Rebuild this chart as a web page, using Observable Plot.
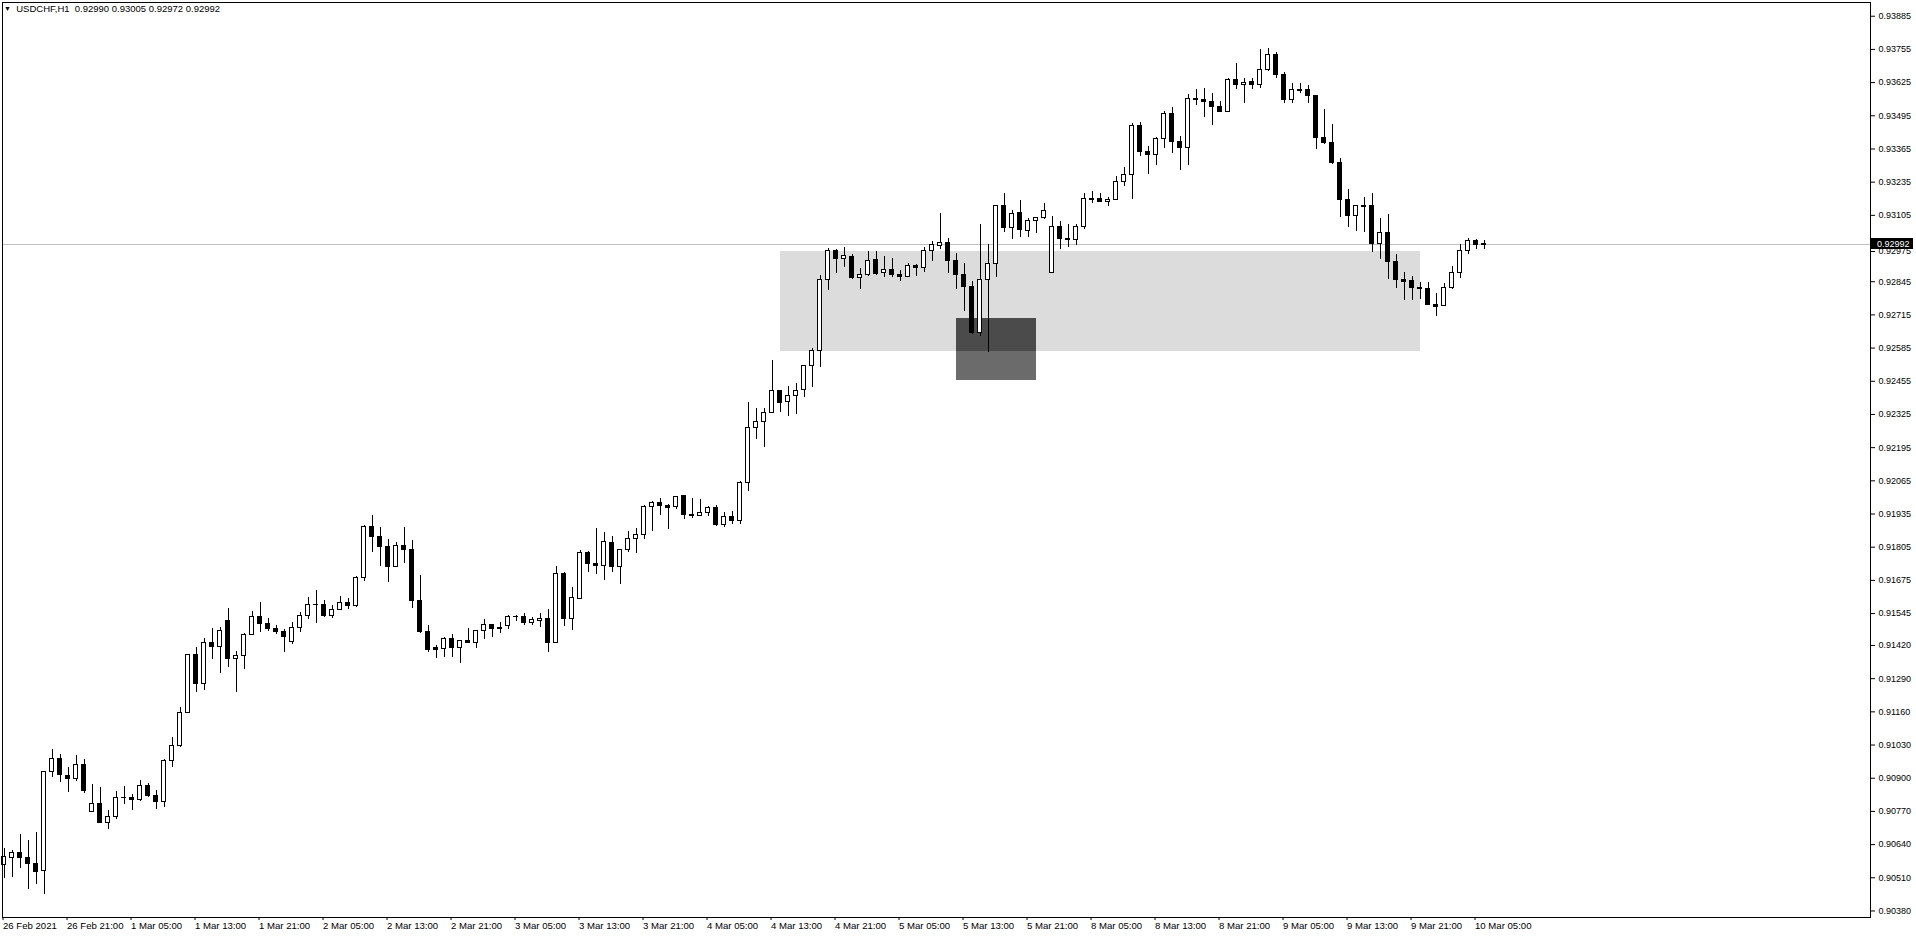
<!DOCTYPE html>
<html><head><meta charset="utf-8">
<script src="https://cdn.jsdelivr.net/npm/d3@7"></script>
<script src="https://cdn.jsdelivr.net/npm/@observablehq/plot@0.6"></script>
<style>
html,body{margin:0;padding:0;background:#fff;overflow:hidden}
#chart{position:relative;width:1916px;height:937px}
#title{position:absolute;left:4px;top:3px;font:9.5px "Liberation Sans",Arial,sans-serif;color:#000;white-space:pre;z-index:2}
#title .tri{font-size:7px;vertical-align:1px}
</style></head><body>
<div id="chart"><div id="title"><span class="tri">▼</span>  USDCHF,H1  0.92990 0.93005 0.92972 0.92992</div></div>
<script>
// Hourly bars, 26 Feb 2021 13:00 -> 10 Mar 2021 06:00 (bar index 0..185)
const opens = [0.90561,0.90588,0.90608,0.90588,0.90565,0.90535,0.90925,0.90976,0.90910,0.90896,0.90953,0.90769,0.90800,0.90724,0.90749,0.90823,0.90824,0.90813,0.90870,0.90830,
0.90808,0.90969,0.91026,0.91156,0.91381,0.91268,0.91431,0.91413,0.91514,0.91368,0.91380,0.91462,0.91532,0.91505,0.91485,0.91474,0.91435,0.91489,0.91536,0.91579,
0.91580,0.91535,0.91560,0.91587,0.91574,0.91683,0.91886,0.91844,0.91805,0.91727,0.91808,0.91795,0.91594,0.91473,0.91409,0.91406,0.91447,0.91409,0.91439,0.91429,
0.91478,0.91501,0.91490,0.91495,0.91532,0.91532,0.91507,0.91514,0.91525,0.91430,0.91701,0.91525,0.91603,0.91784,0.91739,0.91731,0.91822,0.91727,0.91794,0.91838,
0.91854,0.91961,0.91979,0.91966,0.91962,0.92004,0.91932,0.91926,0.91940,0.91959,0.91891,0.91924,0.91907,0.92058,0.92273,0.92295,0.92330,0.92416,0.92373,0.92398,
0.92420,0.92515,0.92575,0.92853,0.92966,0.92933,0.92941,0.92859,0.92872,0.92929,0.92878,0.92889,0.92873,0.92865,0.92907,0.92898,0.92967,0.92986,0.92998,0.92925,
0.92871,0.92824,0.92643,0.92850,0.92915,0.93141,0.93054,0.93113,0.93043,0.93084,0.93095,0.92880,0.93061,0.93012,0.93009,0.93061,0.93170,0.93168,0.93158,0.93166,
0.93237,0.93264,0.93456,0.93352,0.93341,0.93405,0.93503,0.93392,0.93368,0.93561,0.93558,0.93550,0.93530,0.93511,0.93636,0.93617,0.93628,0.93617,0.93673,0.93734,
0.93656,0.93558,0.93597,0.93596,0.93573,0.93407,0.93388,0.93309,0.93166,0.93104,0.93143,0.93140,0.92994,0.93037,0.92922,0.92853,0.92847,0.92820,0.92816,0.92754,
0.92748,0.92821,0.92879,0.92967,0.93003,0.92990];
const highs = [0.90624,0.90617,0.90680,0.90656,0.90688,0.90928,0.91013,0.90993,0.90942,0.90989,0.90972,0.90876,0.90863,0.90774,0.90848,0.90868,0.90836,0.90891,0.90881,0.90852,
0.90972,0.91058,0.91176,0.91385,0.91413,0.91448,0.91487,0.91492,0.91565,0.91395,0.91466,0.91553,0.91588,0.91526,0.91498,0.91482,0.91510,0.91549,0.91608,0.91635,
0.91596,0.91575,0.91612,0.91604,0.91692,0.91890,0.91929,0.91883,0.91835,0.91822,0.91882,0.91831,0.91694,0.91498,0.91420,0.91452,0.91463,0.91440,0.91487,0.91479,
0.91522,0.91502,0.91509,0.91537,0.91537,0.91545,0.91528,0.91545,0.91561,0.91728,0.91707,0.91647,0.91791,0.91788,0.91878,0.91863,0.91847,0.91795,0.91867,0.91878,
0.91968,0.91984,0.91996,0.91972,0.92003,0.92007,0.91996,0.91992,0.91964,0.91967,0.91941,0.91944,0.92062,0.92372,0.92347,0.92347,0.92536,0.92419,0.92435,0.92445,
0.92516,0.92585,0.92869,0.92976,0.92971,0.92978,0.92952,0.92896,0.92963,0.92963,0.92944,0.92935,0.92889,0.92915,0.92912,0.92980,0.93003,0.93112,0.93013,0.92956,
0.92916,0.92846,0.93069,0.92991,0.93142,0.93190,0.93124,0.93163,0.93092,0.93096,0.93150,0.93101,0.93080,0.93070,0.93070,0.93191,0.93199,0.93191,0.93174,0.93257,
0.93293,0.93466,0.93469,0.93375,0.93409,0.93512,0.93528,0.93414,0.93578,0.93598,0.93602,0.93584,0.93551,0.93642,0.93700,0.93642,0.93642,0.93755,0.93760,0.93742,
0.93664,0.93620,0.93620,0.93614,0.93574,0.93520,0.93461,0.93327,0.93206,0.93142,0.93174,0.93190,0.93092,0.93108,0.92951,0.92880,0.92866,0.92841,0.92841,0.92798,
0.92838,0.92905,0.92991,0.93014,0.93012,0.93005];
const lows = [0.90506,0.90512,0.90545,0.90463,0.90483,0.90443,0.90904,0.90885,0.90843,0.90888,0.90839,0.90767,0.90722,0.90698,0.90737,0.90798,0.90774,0.90808,0.90826,0.90779,
0.90787,0.90941,0.91022,0.91152,0.91237,0.91244,0.91366,0.91309,0.91335,0.91237,0.91327,0.91458,0.91472,0.91476,0.91464,0.91394,0.91425,0.91472,0.91523,0.91507,
0.91528,0.91527,0.91559,0.91560,0.91570,0.91672,0.91786,0.91731,0.91668,0.91724,0.91742,0.91566,0.91468,0.91394,0.91370,0.91374,0.91374,0.91351,0.91427,0.91407,
0.91445,0.91452,0.91468,0.91484,0.91514,0.91498,0.91498,0.91492,0.91394,0.91428,0.91496,0.91480,0.91599,0.91707,0.91699,0.91676,0.91707,0.91660,0.91784,0.91782,
0.91836,0.91868,0.91930,0.91876,0.91954,0.91915,0.91919,0.91925,0.91926,0.91887,0.91883,0.91895,0.91895,0.92024,0.92227,0.92197,0.92328,0.92334,0.92318,0.92324,
0.92393,0.92430,0.92510,0.92811,0.92876,0.92900,0.92853,0.92813,0.92867,0.92869,0.92863,0.92863,0.92847,0.92860,0.92867,0.92882,0.92925,0.92970,0.92878,0.92813,
0.92730,0.92637,0.92632,0.92569,0.92863,0.93039,0.93009,0.93019,0.93019,0.93035,0.93089,0.92879,0.92970,0.92978,0.92986,0.93048,0.93151,0.93158,0.93141,0.93163,
0.93219,0.93168,0.93337,0.93266,0.93302,0.93368,0.93349,0.93282,0.93302,0.93534,0.93490,0.93458,0.93510,0.93507,0.93597,0.93542,0.93597,0.93603,0.93667,0.93640,
0.93542,0.93542,0.93584,0.93544,0.93362,0.93382,0.93303,0.93098,0.93059,0.93043,0.93039,0.92960,0.92933,0.92855,0.92820,0.92773,0.92773,0.92777,0.92753,0.92710,
0.92746,0.92816,0.92859,0.92951,0.92970,0.92972];
const closes = [0.90591,0.90608,0.90587,0.90565,0.90534,0.90925,0.90976,0.90914,0.90896,0.90953,0.90849,0.90800,0.90724,0.90749,0.90823,0.90824,0.90815,0.90870,0.90830,0.90808,
0.90968,0.91026,0.91156,0.91381,0.91270,0.91431,0.91413,0.91478,0.91368,0.91380,0.91462,0.91532,0.91505,0.91485,0.91474,0.91454,0.91489,0.91536,0.91579,0.91580,
0.91535,0.91560,0.91587,0.91574,0.91686,0.91886,0.91844,0.91805,0.91727,0.91808,0.91795,0.91594,0.91471,0.91403,0.91403,0.91447,0.91409,0.91439,0.91429,0.91478,
0.91501,0.91485,0.91486,0.91532,0.91533,0.91507,0.91518,0.91525,0.91429,0.91701,0.91525,0.91607,0.91784,0.91739,0.91731,0.91824,0.91727,0.91794,0.91838,0.91854,
0.91961,0.91979,0.91966,0.91959,0.92002,0.91930,0.91926,0.91940,0.91959,0.91891,0.91924,0.91907,0.92058,0.92273,0.92295,0.92332,0.92416,0.92371,0.92398,0.92418,
0.92515,0.92575,0.92853,0.92966,0.92933,0.92944,0.92859,0.92872,0.92927,0.92875,0.92889,0.92871,0.92863,0.92907,0.92898,0.92967,0.92990,0.92998,0.92925,0.92871,
0.92824,0.92643,0.92850,0.92915,0.93141,0.93056,0.93111,0.93046,0.93084,0.93095,0.93123,0.93061,0.93012,0.93009,0.93061,0.93170,0.93165,0.93158,0.93166,0.93237,
0.93264,0.93456,0.93352,0.93341,0.93405,0.93503,0.93392,0.93368,0.93560,0.93558,0.93550,0.93530,0.93511,0.93636,0.93617,0.93624,0.93617,0.93673,0.93734,0.93656,
0.93558,0.93597,0.93591,0.93573,0.93407,0.93388,0.93309,0.93166,0.93102,0.93140,0.93138,0.92994,0.93037,0.92922,0.92853,0.92845,0.92820,0.92816,0.92753,0.92745,
0.92822,0.92880,0.92967,0.93006,0.92990,0.92992];

// x-axis labels (bar index of each label)
const xTickBars = [0,8,16,24,32,40,48,56,64,72,80,88,96,104,112,120,128,136,144,152,160,168,176,184];
const xTickLabels = ["26 Feb 2021","26 Feb 21:00","1 Mar 05:00","1 Mar 13:00","1 Mar 21:00","2 Mar 05:00","2 Mar 13:00","2 Mar 21:00","3 Mar 05:00","3 Mar 13:00","3 Mar 21:00","4 Mar 05:00","4 Mar 13:00","4 Mar 21:00","5 Mar 05:00","5 Mar 13:00","5 Mar 21:00","8 Mar 05:00","8 Mar 13:00","8 Mar 21:00","9 Mar 05:00","9 Mar 13:00","9 Mar 21:00","10 Mar 05:00"];
// price axis labels (0.92975 sits under the current-price tag)
const yTicks = [0.93885,0.93755,0.93625,0.93495,0.93365,0.93235,0.93105,0.92845,0.92715,0.92585,0.92455,0.92325,0.92195,0.92065,0.91935,0.91805,0.91675,0.91545,0.91420,0.91290,0.91160,0.91030,0.90900,0.90770,0.90640,0.90510,0.90380];
const hiddenTick = 0.92975;

// drawn zones: [startBar, endBar, lowPrice, highPrice]
const zoneLight = {x1: 97, x2: 177, low: 0.92572, high: 0.92964};
const zoneDark  = {x1: 119, x2: 129, low: 0.92458, high: 0.92701};
const lastPrice = 0.92992;

const bars = opens.map((o, i) => ({i, open: o, high: highs[i], low: lows[i], close: closes[i]}));
const overlap = {
  x1: Math.max(zoneLight.x1, zoneDark.x1), x2: Math.min(zoneLight.x2, zoneDark.x2),
  low: Math.max(zoneLight.low, zoneDark.low), high: Math.min(zoneLight.high, zoneDark.high)
};
const labelOf = new Map(xTickBars.map((b, k) => [b, xTickLabels[k]]));
const FONT = "'Liberation Sans', Arial, sans-serif";

const chart = Plot.plot({
  width: 1916, height: 937,
  marginLeft: 2, marginRight: 46, marginTop: 2, marginBottom: 20,
  style: {fontFamily: FONT, fontSize: "9px", color: "#000", background: "#fff"},
  x: {type: "linear", domain: [-0.1875, 233.3125], axis: null},
  y: {type: "linear", domain: [0.903544, 0.939388], axis: null},
  marks: [
    Plot.rect([zoneLight], {x1: "x1", x2: "x2", y1: "low", y2: "high", fill: "#dcdcdc", shapeRendering: "crispEdges"}),
    Plot.rect([zoneDark], {x1: "x1", x2: "x2", y1: "low", y2: "high", fill: "#6b6b6b", shapeRendering: "crispEdges"}),
    Plot.rect([overlap], {x1: "x1", x2: "x2", y1: "low", y2: "high", fill: "#4b4b4b", shapeRendering: "crispEdges"}),
    Plot.ruleY([lastPrice], {stroke: "#c0c0c0", shapeRendering: "crispEdges"}),
    Plot.ruleX(bars, {x: "i", y1: "low", y2: "high", stroke: "#000", shapeRendering: "crispEdges"}),
    Plot.rect(bars, {x1: d => d.i - 0.25, x2: d => d.i + 0.25, y1: "open", y2: "close",
      fill: d => d.close >= d.open ? "#fff" : "#000", stroke: "#000", shapeRendering: "crispEdges"}),
    Plot.frame({stroke: "#000", shapeRendering: "crispEdges"}),
    Plot.axisY(yTicks, {anchor: "right", tickSize: 4, tickPadding: 4, tickFormat: d => d.toFixed(5), fill: "#000", stroke: "#000"}),
    Plot.axisY([hiddenTick], {anchor: "right", tickSize: 4, tickPadding: 4, tickFormat: d => d.toFixed(5), fill: "#000", stroke: "#000", dy: 3}),
    Plot.axisX(xTickBars, {anchor: "bottom", tickSize: 3, tickPadding: 2, textAnchor: "start", dx: -1, fontSize: 9.6,
      tickFormat: d => labelOf.get(d), fill: "#000", stroke: "#000"})
  ]
});

// current price tag on the price axis
const ys = chart.scale("y"), xs = chart.scale("x");
const yLast = ys.apply(lastPrice);
const xRight = xs.apply(xs.domain[1]);
const svg = d3.select(chart);
svg.append("rect").attr("x", xRight + 1).attr("y", Math.round(yLast) - 6)
  .attr("width", 42).attr("height", 11).attr("fill", "#000");
svg.append("text").attr("x", xRight + 7).attr("y", yLast).attr("dy", "0.32em")
  .attr("text-anchor", "start")
  .attr("fill", "#fff").attr("font-size", 9).attr("font-family", FONT)
  .text(lastPrice.toFixed(5));

document.getElementById("chart").appendChild(chart);
</script>
</body></html>
